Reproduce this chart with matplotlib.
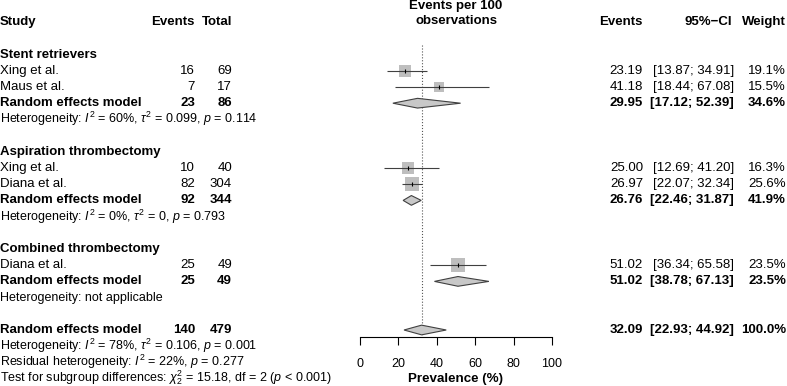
import numpy as np
import matplotlib.pyplot as plt
from matplotlib.patches import Polygon

plt.rcParams['font.family'] = ['Liberation Sans', 'DejaVu Sans']
plt.rcParams['mathtext.fontset'] = 'custom'
plt.rcParams['mathtext.rm'] = 'Liberation Sans'
plt.rcParams['mathtext.it'] = 'Liberation Sans:italic'
plt.rcParams['mathtext.bf'] = 'Liberation Sans:bold'

# data
group_names = ["Stent retrievers", "Aspiration thrombectomy", "Combined thrombectomy"]
study_names = [["Xing et al.", "Maus et al."], ["Xing et al.", "Diana et al."], ["Diana et al."]]
study_events = [[16, 7], [10, 82], [25]]
study_total = [[69, 17], [40, 304], [49]]
study_est = [[23.19, 41.18], [25.00, 26.97], [51.02]]
study_lo = [[13.87, 18.44], [12.69, 22.07], [36.34]]
study_hi = [[34.91, 67.08], [41.20, 32.34], [65.58]]
study_w = [[19.1, 15.5], [16.3, 25.6], [23.5]]

group_events = [23, 92, 25]
group_total = [86, 344, 49]
group_est = [29.95, 26.76, 51.02]
group_lo = [17.12, 22.46, 38.78]
group_hi = [52.39, 31.87, 67.13]
group_w = [34.6, 41.9, 23.5]
group_het = [r"Heterogeneity: $\mathit{I}^2$ = 60%, $\tau^2$ = 0.099, $\mathit{p}$ = 0.114",
             r"Heterogeneity: $\mathit{I}^2$ = 0%, $\tau^2$ = 0, $\mathit{p}$ = 0.793",
             "Heterogeneity: not applicable"]

overall_events = 140
overall_total = 479
overall_est = 32.09
overall_lo = 22.93
overall_hi = 44.92
overall_w = 100.0
overall_notes = [r"Heterogeneity: $\mathit{I}^2$ = 78%, $\tau^2$ = 0.106, $\mathit{p}$ = 0.001",
                 r"Residual heterogeneity: $\mathit{I}^2$ = 22%, $\mathit{p}$ = 0.277",
                 r"Test for subgroup differences: $\chi^2_2$ = 15.18, df = 2 ($\mathit{p}$ < 0.001)"]

# layout (pixels)
W, H = 787, 386
ROW = 16.2
TOP = 6
AXIS_PX = 337
FS = 9.5
FS_HET = 9.0
X_EV, X_TOT = 195, 232
X_REV, X_CI, X_WT = 643, 734, 786
SQ_K = 2.77   # px per sqrt(weight)
DH = 0.3      # diamond half height (rows)

fig = plt.figure(figsize=(W / 100, H / 100), dpi=100)
ax = fig.add_axes([0, 0, 1, 1])
ax.set_xlim(0, W)
ax.set_ylim((H - TOP) / ROW, -TOP / ROW)
ax.axis('off')

fa = fig.add_axes([360 / W, (H - AXIS_PX) / H, 192 / W, AXIS_PX / H])
fa.set_xlim(0, 100)
fa.set_ylim((AXIS_PX - TOP) / ROW, -TOP / ROW)
fa.patch.set_visible(False)
for s in ['top', 'left', 'right']:
    fa.spines[s].set_visible(False)
fa.spines['bottom'].set_linewidth(0.8)
fa.set_yticks([])
fa.set_xticks(range(0, 101, 20))
fa.tick_params(axis='x', length=5.8, width=0.8, pad=9, labelsize=9)
fa.set_xlabel("Prevalence (%)", fontweight='bold', fontsize=9.6, labelpad=2.5)


def txt(x, y, s, ha='left', bold=False, size=FS):
    ax.text(x, y, s, ha=ha, va='center', fontsize=size,
            fontweight='bold' if bold else 'normal')


def right_cols(y, est, lo, hi, w, bold=False):
    txt(X_REV, y, f"{est:.2f}", 'right', bold)
    txt(X_CI, y, f"[{lo:.2f}; {hi:.2f}]", 'right', bold)
    txt(X_WT, y, f"{w:.1f}%", 'right', bold)


def diamond(y, est, lo, hi):
    fa.add_patch(Polygon([(lo, y), (est, y - DH), (hi, y), (est, y + DH)],
                         closed=True, fc='#c8c8c8', ec='#404040', lw=0.8,
                         clip_on=False, zorder=3))


# headers
txt(0, 1, "Study", bold=True)
txt(X_EV, 1, "Events", 'right', True)
txt(X_TOT, 1, "Total", 'right', True)
ax.text(456, 0, "Events per 100", ha='center', va='center', fontsize=FS, fontweight='bold')
ax.text(456, 0.93, "observations", ha='center', va='center', fontsize=FS, fontweight='bold')
txt(X_REV, 1, "Events", 'right', True)
txt(X_CI - 2, 1, "95%\u2212CI", 'right', True)
txt(X_WT, 1, "Weight", 'right', True)

row = 3
for g in range(len(group_names)):
    txt(0, row, group_names[g], bold=True)
    row += 1
    for i in range(len(study_names[g])):
        txt(0, row, study_names[g][i])
        txt(X_EV, row, str(study_events[g][i]), 'right')
        txt(X_TOT, row, str(study_total[g][i]), 'right')
        right_cols(row, study_est[g][i], study_lo[g][i], study_hi[g][i], study_w[g][i])
        side = SQ_K * np.sqrt(study_w[g][i]) * 0.72
        fa.scatter(study_est[g][i], row, marker='s', s=side ** 2, color='#bebebe',
                   linewidths=0, zorder=2, clip_on=False)
        fa.hlines(row, study_lo[g][i], study_hi[g][i], color='#404040', lw=0.8,
                  zorder=3, clip_on=False)
        fa.scatter(study_est[g][i], row, marker='|', s=(4 * 0.72) ** 2, color='black',
                   linewidths=0.8, zorder=4, clip_on=False)
        row += 1
    txt(0, row, "Random effects model", bold=True)
    txt(X_EV, row, str(group_events[g]), 'right', True)
    txt(X_TOT, row, str(group_total[g]), 'right', True)
    right_cols(row, group_est[g], group_lo[g], group_hi[g], group_w[g], True)
    diamond(row, group_est[g], group_lo[g], group_hi[g])
    row += 1
    txt(0, row, group_het[g], size=FS_HET)
    row += 2

txt(0, row, "Random effects model", bold=True)
txt(X_EV, row, str(overall_events), 'right', True)
txt(X_TOT, row, str(overall_total), 'right', True)
right_cols(row, overall_est, overall_lo, overall_hi, overall_w, True)
diamond(row, overall_est, overall_lo, overall_hi)
for note in overall_notes:
    row += 1
    txt(0, row - 0.04, note, size=FS_HET)

fa.vlines(overall_est, 2.41, (AXIS_PX - TOP) / ROW, color='#555555', lw=0.8,
          linestyles=':', zorder=1, clip_on=False)

fig.savefig("out.png", dpi=100)
